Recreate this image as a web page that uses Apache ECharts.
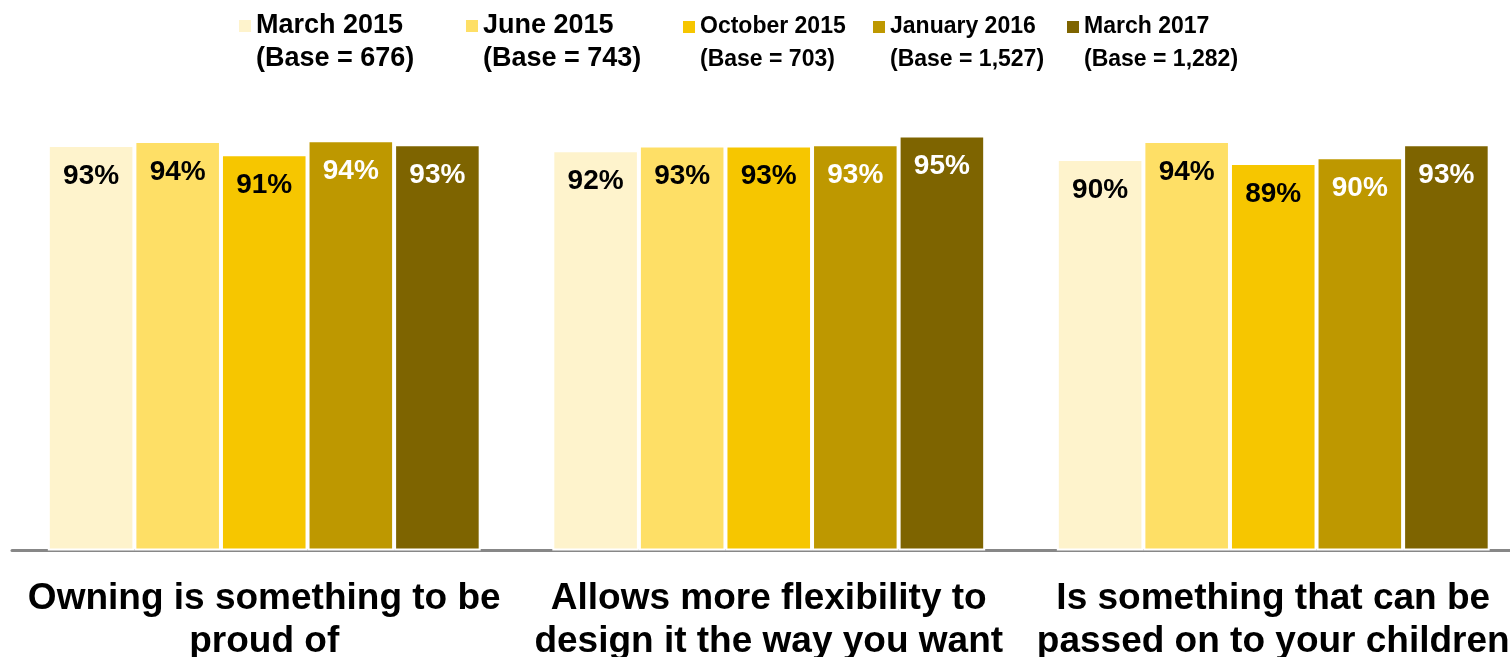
<!DOCTYPE html>
<html>
<head>
<meta charset="utf-8">
<script src="https://cdn.jsdelivr.net/npm/echarts@6/dist/echarts.min.js"></script>
<style>
    html, body { margin: 0; padding: 0; background: #fff; }
    #chart { width: 1510px; height: 657px; }
</style>
</head>
<body>
<div id="chart"></div>
<script>
    const categories = [
        'Owning is something to be\nproud of',
        'Allows more flexibility to\ndesign it the way you want',
        'Is something that can be\npassed on to your children'
    ];
    const seriesNames = ['March 2015', 'June 2015', 'October 2015', 'January 2016', 'March 2017'];
    const bases = ['676', '743', '703', '1,527', '1,282'];

    // values (labels show them rounded)
    const march2015 = [93.0, 91.8, 89.8];
    const june2015 = [93.9, 92.9, 93.9];
    const october2015 = [90.9, 92.9, 88.9];
    const january2016 = [94.1, 93.2, 90.2];
    const march2017 = [93.2, 95.2, 93.2];

    const seriesData = [march2015, june2015, october2015, january2016, march2017];
    const colors = ['#FEF3CC', '#FEDF66', '#F6C600', '#BE9800', '#7E6400'];
    const labelColors = ['#000', '#000', '#000', '#fff', '#fff'];

    const font = '"Liberation Sans", Arial, sans-serif';
    const legendLeft = [239, 466, 683, 873, 1067];

    let chart = echarts.init(document.getElementById('chart'));

    let legends = seriesNames.map((name, i) => {
        return {
            data: [name],
            left: legendLeft[i],
            top: i < 2 ? 9 : 10,
            padding: 0,
            itemWidth: 12,
            itemHeight: 44,
            // square sits beside the first line of the two-line text
            icon: 'path://M0,0H12V12H0ZM0,44H12',
            itemStyle: { borderWidth: 0 },
            selectedMode: false,
            formatter: n => n + '\n(Base = ' + bases[i] + ')',
            textStyle: {
                color: '#000',
                fontWeight: 'bold',
                fontFamily: font,
                // the last three are squeezed in the original
                fontSize: i < 2 ? 27 : 23,
                lineHeight: 33
            }
        };
    });

    let series = seriesNames.map((name, i) => {
        return {
            type: 'bar',
            name: name,
            data: seriesData[i],
            barGap: '0%',
            barCategoryGap: '14.2%',
            itemStyle: {
                color: colors[i],
                borderColor: '#fff',
                borderWidth: 2
            },
            label: {
                show: true,
                position: 'insideTop',
                distance: 17,
                formatter: p => Math.round(p.value) + '%',
                color: labelColors[i],
                fontFamily: font,
                fontWeight: 'bold',
                fontSize: 28
            }
        };
    });

    let option = {
        animation: false,
        backgroundColor: '#fff',
        legend: legends,
        grid: {
            left: 12,
            width: 1513.5,
            top: 114.5,
            bottom: 106.5,
            containLabel: false,
            outerBoundsMode: 'none'
        },
        xAxis: {
            type: 'category',
            data: categories,
            axisLine: { lineStyle: { color: '#878787', width: 3 } },
            axisTick: { show: false },
            axisLabel: {
                interval: 0,
                margin: 27,
                color: '#000',
                fontFamily: font,
                fontWeight: 'bold',
                fontSize: 37,
                lineHeight: 43
            }
        },
        yAxis: {
            type: 'value',
            min: 0,
            max: 100,
            show: false
        },
        series: series
    };
    chart.setOption(option);
</script>
</body>
</html>
